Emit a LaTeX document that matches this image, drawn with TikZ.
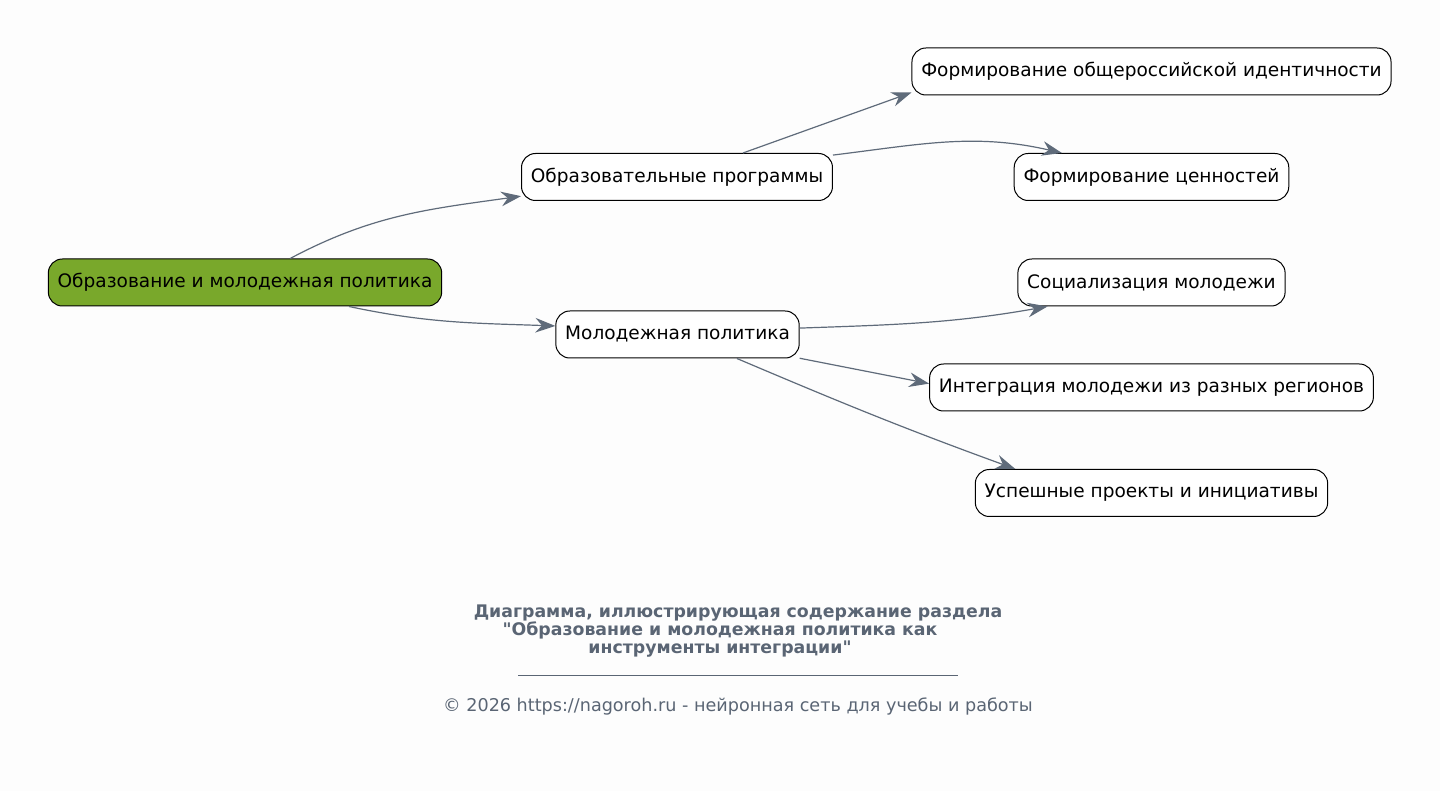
\documentclass[tikz,border=0pt]{standalone}
\usepackage{fontspec}
\setmainfont{DejaVu Sans}
\usetikzlibrary{arrows.meta,positioning}
\definecolor{bgcol}{RGB}{253,253,253}
\definecolor{edgecol}{RGB}{95,107,122}
\definecolor{rootcol}{RGB}{121,168,43}
\definecolor{capcol}{RGB}{90,101,116}
\tikzset{
  topic/.style={draw=black,line width=0.75pt,rounded corners=10.5pt,fill=white,
    minimum height=35.25pt,inner xsep=7pt,font=\fontsize{13.9}{16}\selectfont},
  rootbox/.style={topic,fill=rootcol},
  link/.style={draw=edgecol,line width=0.9pt,-{Stealth[length=15pt,width=11pt,inset=5pt]}}
}

\begin{document}
\begin{tikzpicture}[x=0.75pt,y=0.75pt]
\fill [bgcol] (0,0) rectangle (1440,-791);
\useasboundingbox (0,0) rectangle (1440,-791);
% nodes
\node [rootbox] (root) at (245,-282.5) {Образование и молодежная политика};
\node [topic] (prog) at (677,-177) {Образовательные программы};
\node [topic] (mol) at (677.5,-334.5) {Молодежная политика};
\node [topic] (ident) at (1151.5,-71.5) {Формирование общероссийской идентичности};
\node [topic] (cenn) at (1151.5,-177) {Формирование ценностей};
\node [topic] (soc) at (1151.5,-282.5) {Социализация молодежи};
\node [topic] (integ) at (1151.5,-387.5) {Интеграция молодежи из разных регионов};
\node [topic] (usp) at (1151.5,-493) {Успешные проекты и инициативы};
% connectors
\draw [link] (root.28) to[out=28,in=188] (prog.187);
\draw [link] (root.-13) to[out=-12,in=178] (mol.176);
\draw [link] (prog.20) -- (ident.185);
\draw [link] (prog.8) to[out=7,in=167] (cenn.165);
\draw [link] (mol.3) to[out=2,in=190] (soc.193);
\draw [link] (mol.-11) -- (integ.179);
\draw [link] (mol.-22) to[out=-23,in=160] (usp.170);
% caption
\node [align=center,text=capcol,font=\fontsize{13}{13.5}\selectfont\bfseries] (cap) at (738,-631)
  {Диаграмма, иллюстрирующая содержание раздела\\
   \textquotedbl Образование и молодежная политика как\hbox to 27pt{}\\
   инструменты интеграции\textquotedbl\hbox to 27pt{}};
\draw [capcol,line width=0.6pt] (518,-675) -- (958,-675);
\node [text=capcol,font=\fontsize{13.2}{14}\selectfont] (foot) at (738,-706)
  {© 2026 https://nagoroh.ru - нейронная сеть для учебы и работы};
\end{tikzpicture}
\end{document}
